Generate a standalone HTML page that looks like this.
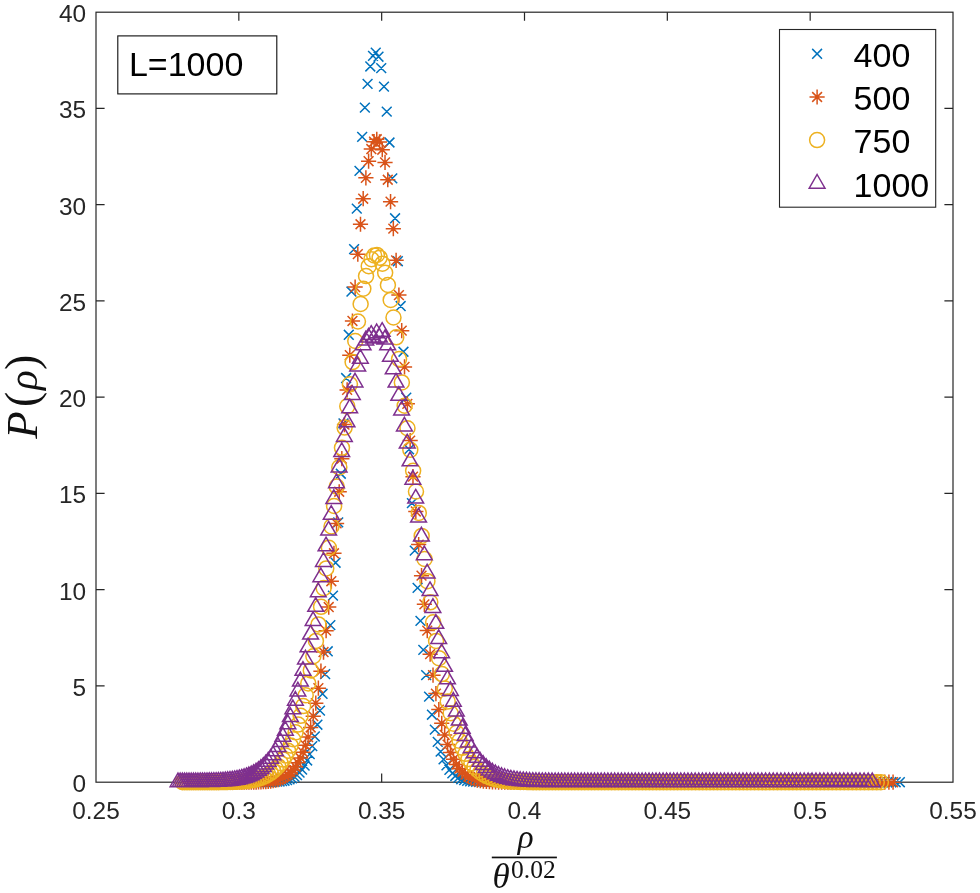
<!DOCTYPE html>
<html lang="en"><head><meta charset="utf-8"><title>P(rho) scaling plot</title>
<style>
html,body{margin:0;padding:0;background:#fff;}
svg{display:block;}
.t{font-family:"Liberation Sans",Arial,sans-serif;fill:#262626;}
.k{font-family:"Liberation Sans",Arial,sans-serif;fill:#000;}
.m{font-family:"Liberation Serif","DejaVu Serif",serif;fill:#111;}
</style></head><body>
<svg width="980" height="893" viewBox="0 0 980 893">
<rect x="0" y="0" width="980" height="893" fill="#fff"/>
<rect x="96.0" y="12.2" width="857.0" height="770.0" fill="none" stroke="#262626" stroke-width="1.2"/>
<path d="M238.83,782.2v-8.6M238.83,12.2v8.6M381.67,782.2v-8.6M381.67,12.2v8.6M524.50,782.2v-8.6M524.50,12.2v8.6M667.33,782.2v-8.6M667.33,12.2v8.6M810.17,782.2v-8.6M810.17,12.2v8.6M96.0,685.95h8.6M953.0,685.95h-8.6M96.0,589.70h8.6M953.0,589.70h-8.6M96.0,493.45h8.6M953.0,493.45h-8.6M96.0,397.20h8.6M953.0,397.20h-8.6M96.0,300.95h8.6M953.0,300.95h-8.6M96.0,204.70h8.6M953.0,204.70h-8.6M96.0,108.45h8.6M953.0,108.45h-8.6" fill="none" stroke="#262626" stroke-width="1.2"/>
<text class="t" x="96.00" y="818.6" font-size="24.4" text-anchor="middle">0.25</text>
<text class="t" x="238.83" y="818.6" font-size="24.4" text-anchor="middle">0.3</text>
<text class="t" x="381.67" y="818.6" font-size="24.4" text-anchor="middle">0.35</text>
<text class="t" x="524.50" y="818.6" font-size="24.4" text-anchor="middle">0.4</text>
<text class="t" x="667.33" y="818.6" font-size="24.4" text-anchor="middle">0.45</text>
<text class="t" x="810.17" y="818.6" font-size="24.4" text-anchor="middle">0.5</text>
<text class="t" x="953.00" y="818.6" font-size="24.4" text-anchor="middle">0.55</text>
<text class="t" x="86.2" y="792.00" font-size="24.4" text-anchor="end">0</text>
<text class="t" x="86.2" y="695.75" font-size="24.4" text-anchor="end">5</text>
<text class="t" x="86.2" y="599.50" font-size="24.4" text-anchor="end">10</text>
<text class="t" x="86.2" y="503.25" font-size="24.4" text-anchor="end">15</text>
<text class="t" x="86.2" y="407.00" font-size="24.4" text-anchor="end">20</text>
<text class="t" x="86.2" y="310.75" font-size="24.4" text-anchor="end">25</text>
<text class="t" x="86.2" y="214.50" font-size="24.4" text-anchor="end">30</text>
<text class="t" x="86.2" y="118.25" font-size="24.4" text-anchor="end">35</text>
<text class="t" x="86.2" y="22.00" font-size="24.4" text-anchor="end">40</text>
<path d="M187.84,777.30l9.8,9.8m-9.8,0l9.8,-9.8M190.07,777.30l9.8,9.8m-9.8,0l9.8,-9.8M192.31,777.30l9.8,9.8m-9.8,0l9.8,-9.8M194.55,777.30l9.8,9.8m-9.8,0l9.8,-9.8M196.80,777.30l9.8,9.8m-9.8,0l9.8,-9.8M199.06,777.30l9.8,9.8m-9.8,0l9.8,-9.8M201.33,777.30l9.8,9.8m-9.8,0l9.8,-9.8M203.60,777.30l9.8,9.8m-9.8,0l9.8,-9.8M205.87,777.30l9.8,9.8m-9.8,0l9.8,-9.8M208.16,777.30l9.8,9.8m-9.8,0l9.8,-9.8M210.44,777.30l9.8,9.8m-9.8,0l9.8,-9.8M212.74,777.30l9.8,9.8m-9.8,0l9.8,-9.8M215.04,777.30l9.8,9.8m-9.8,0l9.8,-9.8M217.35,777.30l9.8,9.8m-9.8,0l9.8,-9.8M219.66,777.30l9.8,9.8m-9.8,0l9.8,-9.8M221.98,777.30l9.8,9.8m-9.8,0l9.8,-9.8M224.31,777.30l9.8,9.8m-9.8,0l9.8,-9.8M226.65,777.30l9.8,9.8m-9.8,0l9.8,-9.8M228.98,777.30l9.8,9.8m-9.8,0l9.8,-9.8M231.33,777.30l9.8,9.8m-9.8,0l9.8,-9.8M233.68,777.30l9.8,9.8m-9.8,0l9.8,-9.8M236.04,777.30l9.8,9.8m-9.8,0l9.8,-9.8M238.41,777.30l9.8,9.8m-9.8,0l9.8,-9.8M240.78,777.30l9.8,9.8m-9.8,0l9.8,-9.8M243.16,777.30l9.8,9.8m-9.8,0l9.8,-9.8M245.55,777.29l9.8,9.8m-9.8,0l9.8,-9.8M247.94,777.29l9.8,9.8m-9.8,0l9.8,-9.8M250.34,777.29l9.8,9.8m-9.8,0l9.8,-9.8M252.74,777.28l9.8,9.8m-9.8,0l9.8,-9.8M255.15,777.27l9.8,9.8m-9.8,0l9.8,-9.8M257.57,777.25l9.8,9.8m-9.8,0l9.8,-9.8M260.00,777.23l9.8,9.8m-9.8,0l9.8,-9.8M262.43,777.19l9.8,9.8m-9.8,0l9.8,-9.8M264.87,777.14l9.8,9.8m-9.8,0l9.8,-9.8M267.31,777.06l9.8,9.8m-9.8,0l9.8,-9.8M269.76,776.95l9.8,9.8m-9.8,0l9.8,-9.8M272.22,776.79l9.8,9.8m-9.8,0l9.8,-9.8M274.69,776.57l9.8,9.8m-9.8,0l9.8,-9.8M277.16,776.27l9.8,9.8m-9.8,0l9.8,-9.8M279.64,775.85l9.8,9.8m-9.8,0l9.8,-9.8M282.13,775.27l9.8,9.8m-9.8,0l9.8,-9.8M284.62,774.49l9.8,9.8m-9.8,0l9.8,-9.8M287.12,773.43l9.8,9.8m-9.8,0l9.8,-9.8M289.62,772.03l9.8,9.8m-9.8,0l9.8,-9.8M292.14,770.18l9.8,9.8m-9.8,0l9.8,-9.8M294.66,767.76l9.8,9.8m-9.8,0l9.8,-9.8M297.18,764.63l9.8,9.8m-9.8,0l9.8,-9.8M299.72,760.63l9.8,9.8m-9.8,0l9.8,-9.8M302.26,755.55l9.8,9.8m-9.8,0l9.8,-9.8M304.81,749.19l9.8,9.8m-9.8,0l9.8,-9.8M307.36,741.29l9.8,9.8m-9.8,0l9.8,-9.8M309.93,731.59l9.8,9.8m-9.8,0l9.8,-9.8M312.50,719.81l9.8,9.8m-9.8,0l9.8,-9.8M315.07,705.67l9.8,9.8m-9.8,0l9.8,-9.8M317.65,688.88l9.8,9.8m-9.8,0l9.8,-9.8M320.25,669.18l9.8,9.8m-9.8,0l9.8,-9.8M322.84,646.36l9.8,9.8m-9.8,0l9.8,-9.8M325.45,620.24l9.8,9.8m-9.8,0l9.8,-9.8M328.06,590.73l9.8,9.8m-9.8,0l9.8,-9.8M330.68,557.83l9.8,9.8m-9.8,0l9.8,-9.8M333.31,517.43l9.8,9.8m-9.8,0l9.8,-9.8M335.94,468.85l9.8,9.8m-9.8,0l9.8,-9.8M338.58,418.58l9.8,9.8m-9.8,0l9.8,-9.8M341.23,373.13l9.8,9.8m-9.8,0l9.8,-9.8M343.88,329.90l9.8,9.8m-9.8,0l9.8,-9.8M346.55,286.64l9.8,9.8m-9.8,0l9.8,-9.8M349.22,244.25l9.8,9.8m-9.8,0l9.8,-9.8M351.89,203.68l9.8,9.8m-9.8,0l9.8,-9.8M354.58,165.91l9.8,9.8m-9.8,0l9.8,-9.8M357.27,131.92l9.8,9.8m-9.8,0l9.8,-9.8M359.97,102.66l9.8,9.8m-9.8,0l9.8,-9.8M362.68,78.96l9.8,9.8m-9.8,0l9.8,-9.8M365.39,61.57l9.8,9.8m-9.8,0l9.8,-9.8M368.11,51.03l9.8,9.8m-9.8,0l9.8,-9.8M370.84,47.74l9.8,9.8m-9.8,0l9.8,-9.8M373.58,51.83l9.8,9.8m-9.8,0l9.8,-9.8M376.33,63.26l9.8,9.8m-9.8,0l9.8,-9.8M379.08,81.73l9.8,9.8m-9.8,0l9.8,-9.8M381.84,106.74l9.8,9.8m-9.8,0l9.8,-9.8M384.60,137.60l9.8,9.8m-9.8,0l9.8,-9.8M387.38,173.47l9.8,9.8m-9.8,0l9.8,-9.8M390.16,213.39l9.8,9.8m-9.8,0l9.8,-9.8M392.95,256.30l9.8,9.8m-9.8,0l9.8,-9.8M395.75,301.14l9.8,9.8m-9.8,0l9.8,-9.8M398.56,346.85l9.8,9.8m-9.8,0l9.8,-9.8M401.37,392.77l9.8,9.8m-9.8,0l9.8,-9.8M404.19,444.42l9.8,9.8m-9.8,0l9.8,-9.8M407.02,498.22l9.8,9.8m-9.8,0l9.8,-9.8M409.86,545.76l9.8,9.8m-9.8,0l9.8,-9.8M412.70,582.99l9.8,9.8m-9.8,0l9.8,-9.8M415.55,615.94l9.8,9.8m-9.8,0l9.8,-9.8M418.41,645.00l9.8,9.8m-9.8,0l9.8,-9.8M421.28,670.21l9.8,9.8m-9.8,0l9.8,-9.8M424.16,691.73l9.8,9.8m-9.8,0l9.8,-9.8M427.04,709.82l9.8,9.8m-9.8,0l9.8,-9.8M429.93,724.78l9.8,9.8m-9.8,0l9.8,-9.8M432.83,736.97l9.8,9.8m-9.8,0l9.8,-9.8M435.74,746.73l9.8,9.8m-9.8,0l9.8,-9.8M438.66,754.45l9.8,9.8m-9.8,0l9.8,-9.8M441.58,760.45l9.8,9.8m-9.8,0l9.8,-9.8M444.51,765.04l9.8,9.8m-9.8,0l9.8,-9.8M447.45,768.50l9.8,9.8m-9.8,0l9.8,-9.8M450.40,771.07l9.8,9.8m-9.8,0l9.8,-9.8M453.35,772.96l9.8,9.8m-9.8,0l9.8,-9.8M456.32,774.31l9.8,9.8m-9.8,0l9.8,-9.8M459.29,775.27l9.8,9.8m-9.8,0l9.8,-9.8M462.27,775.95l9.8,9.8m-9.8,0l9.8,-9.8M465.26,776.41l9.8,9.8m-9.8,0l9.8,-9.8M468.26,776.72l9.8,9.8m-9.8,0l9.8,-9.8M471.26,776.93l9.8,9.8m-9.8,0l9.8,-9.8M474.28,777.07l9.8,9.8m-9.8,0l9.8,-9.8M477.30,777.15l9.8,9.8m-9.8,0l9.8,-9.8M480.33,777.21l9.8,9.8m-9.8,0l9.8,-9.8M483.37,777.25l9.8,9.8m-9.8,0l9.8,-9.8M486.41,777.27l9.8,9.8m-9.8,0l9.8,-9.8M489.47,777.28l9.8,9.8m-9.8,0l9.8,-9.8M492.53,777.29l9.8,9.8m-9.8,0l9.8,-9.8M495.60,777.29l9.8,9.8m-9.8,0l9.8,-9.8M498.69,777.30l9.8,9.8m-9.8,0l9.8,-9.8M501.77,777.30l9.8,9.8m-9.8,0l9.8,-9.8M504.87,777.30l9.8,9.8m-9.8,0l9.8,-9.8M507.98,777.30l9.8,9.8m-9.8,0l9.8,-9.8M511.09,777.30l9.8,9.8m-9.8,0l9.8,-9.8M514.22,777.30l9.8,9.8m-9.8,0l9.8,-9.8M517.35,777.30l9.8,9.8m-9.8,0l9.8,-9.8M520.49,777.30l9.8,9.8m-9.8,0l9.8,-9.8M523.64,777.30l9.8,9.8m-9.8,0l9.8,-9.8M526.80,777.30l9.8,9.8m-9.8,0l9.8,-9.8M529.96,777.30l9.8,9.8m-9.8,0l9.8,-9.8M533.14,777.30l9.8,9.8m-9.8,0l9.8,-9.8M536.32,777.30l9.8,9.8m-9.8,0l9.8,-9.8M539.51,777.30l9.8,9.8m-9.8,0l9.8,-9.8M542.72,777.30l9.8,9.8m-9.8,0l9.8,-9.8M545.93,777.30l9.8,9.8m-9.8,0l9.8,-9.8M549.14,777.30l9.8,9.8m-9.8,0l9.8,-9.8M552.37,777.30l9.8,9.8m-9.8,0l9.8,-9.8M555.61,777.30l9.8,9.8m-9.8,0l9.8,-9.8M558.86,777.30l9.8,9.8m-9.8,0l9.8,-9.8M562.11,777.30l9.8,9.8m-9.8,0l9.8,-9.8M565.37,777.30l9.8,9.8m-9.8,0l9.8,-9.8M568.65,777.30l9.8,9.8m-9.8,0l9.8,-9.8M571.93,777.30l9.8,9.8m-9.8,0l9.8,-9.8M575.22,777.30l9.8,9.8m-9.8,0l9.8,-9.8M578.52,777.30l9.8,9.8m-9.8,0l9.8,-9.8M581.83,777.30l9.8,9.8m-9.8,0l9.8,-9.8M585.15,777.30l9.8,9.8m-9.8,0l9.8,-9.8M588.47,777.30l9.8,9.8m-9.8,0l9.8,-9.8M591.81,777.30l9.8,9.8m-9.8,0l9.8,-9.8M595.15,777.30l9.8,9.8m-9.8,0l9.8,-9.8M598.51,777.30l9.8,9.8m-9.8,0l9.8,-9.8M601.87,777.30l9.8,9.8m-9.8,0l9.8,-9.8M605.25,777.30l9.8,9.8m-9.8,0l9.8,-9.8M608.63,777.30l9.8,9.8m-9.8,0l9.8,-9.8M612.02,777.30l9.8,9.8m-9.8,0l9.8,-9.8M615.42,777.30l9.8,9.8m-9.8,0l9.8,-9.8M618.83,777.30l9.8,9.8m-9.8,0l9.8,-9.8M622.25,777.30l9.8,9.8m-9.8,0l9.8,-9.8M625.68,777.30l9.8,9.8m-9.8,0l9.8,-9.8M629.12,777.30l9.8,9.8m-9.8,0l9.8,-9.8M632.57,777.30l9.8,9.8m-9.8,0l9.8,-9.8M636.03,777.30l9.8,9.8m-9.8,0l9.8,-9.8M639.49,777.30l9.8,9.8m-9.8,0l9.8,-9.8M642.97,777.30l9.8,9.8m-9.8,0l9.8,-9.8M646.46,777.30l9.8,9.8m-9.8,0l9.8,-9.8M649.95,777.30l9.8,9.8m-9.8,0l9.8,-9.8M653.46,777.30l9.8,9.8m-9.8,0l9.8,-9.8M656.97,777.30l9.8,9.8m-9.8,0l9.8,-9.8M660.50,777.30l9.8,9.8m-9.8,0l9.8,-9.8M664.03,777.30l9.8,9.8m-9.8,0l9.8,-9.8M667.58,777.30l9.8,9.8m-9.8,0l9.8,-9.8M671.13,777.30l9.8,9.8m-9.8,0l9.8,-9.8M674.70,777.30l9.8,9.8m-9.8,0l9.8,-9.8M678.27,777.30l9.8,9.8m-9.8,0l9.8,-9.8M681.85,777.30l9.8,9.8m-9.8,0l9.8,-9.8M685.45,777.30l9.8,9.8m-9.8,0l9.8,-9.8M689.05,777.30l9.8,9.8m-9.8,0l9.8,-9.8M692.66,777.30l9.8,9.8m-9.8,0l9.8,-9.8M696.29,777.30l9.8,9.8m-9.8,0l9.8,-9.8M699.92,777.30l9.8,9.8m-9.8,0l9.8,-9.8M703.56,777.30l9.8,9.8m-9.8,0l9.8,-9.8M707.22,777.30l9.8,9.8m-9.8,0l9.8,-9.8M710.88,777.30l9.8,9.8m-9.8,0l9.8,-9.8M714.55,777.30l9.8,9.8m-9.8,0l9.8,-9.8M718.24,777.30l9.8,9.8m-9.8,0l9.8,-9.8M721.93,777.30l9.8,9.8m-9.8,0l9.8,-9.8M725.63,777.30l9.8,9.8m-9.8,0l9.8,-9.8M729.35,777.30l9.8,9.8m-9.8,0l9.8,-9.8M733.07,777.30l9.8,9.8m-9.8,0l9.8,-9.8M736.81,777.30l9.8,9.8m-9.8,0l9.8,-9.8M740.55,777.30l9.8,9.8m-9.8,0l9.8,-9.8M744.31,777.30l9.8,9.8m-9.8,0l9.8,-9.8M748.07,777.30l9.8,9.8m-9.8,0l9.8,-9.8M751.85,777.30l9.8,9.8m-9.8,0l9.8,-9.8M755.63,777.30l9.8,9.8m-9.8,0l9.8,-9.8M759.43,777.30l9.8,9.8m-9.8,0l9.8,-9.8M763.24,777.30l9.8,9.8m-9.8,0l9.8,-9.8M767.06,777.30l9.8,9.8m-9.8,0l9.8,-9.8M770.88,777.30l9.8,9.8m-9.8,0l9.8,-9.8M774.72,777.30l9.8,9.8m-9.8,0l9.8,-9.8M778.57,777.30l9.8,9.8m-9.8,0l9.8,-9.8M782.43,777.30l9.8,9.8m-9.8,0l9.8,-9.8M786.30,777.30l9.8,9.8m-9.8,0l9.8,-9.8M790.18,777.30l9.8,9.8m-9.8,0l9.8,-9.8M794.07,777.30l9.8,9.8m-9.8,0l9.8,-9.8M797.98,777.30l9.8,9.8m-9.8,0l9.8,-9.8M801.89,777.30l9.8,9.8m-9.8,0l9.8,-9.8M805.81,777.30l9.8,9.8m-9.8,0l9.8,-9.8M809.75,777.30l9.8,9.8m-9.8,0l9.8,-9.8M813.70,777.30l9.8,9.8m-9.8,0l9.8,-9.8M817.65,777.30l9.8,9.8m-9.8,0l9.8,-9.8M821.62,777.30l9.8,9.8m-9.8,0l9.8,-9.8M825.60,777.30l9.8,9.8m-9.8,0l9.8,-9.8M829.59,777.30l9.8,9.8m-9.8,0l9.8,-9.8M833.59,777.30l9.8,9.8m-9.8,0l9.8,-9.8M837.60,777.30l9.8,9.8m-9.8,0l9.8,-9.8M841.62,777.30l9.8,9.8m-9.8,0l9.8,-9.8M845.65,777.30l9.8,9.8m-9.8,0l9.8,-9.8M849.70,777.30l9.8,9.8m-9.8,0l9.8,-9.8M853.75,777.30l9.8,9.8m-9.8,0l9.8,-9.8M857.82,777.30l9.8,9.8m-9.8,0l9.8,-9.8M861.90,777.30l9.8,9.8m-9.8,0l9.8,-9.8M865.99,777.30l9.8,9.8m-9.8,0l9.8,-9.8M870.09,777.30l9.8,9.8m-9.8,0l9.8,-9.8M874.20,777.30l9.8,9.8m-9.8,0l9.8,-9.8M878.32,777.30l9.8,9.8m-9.8,0l9.8,-9.8M882.46,777.30l9.8,9.8m-9.8,0l9.8,-9.8M886.60,777.30l9.8,9.8m-9.8,0l9.8,-9.8M890.76,777.30l9.8,9.8m-9.8,0l9.8,-9.8M894.93,777.30l9.8,9.8m-9.8,0l9.8,-9.8" fill="none" stroke="#0072BD" stroke-width="1.5" stroke-linejoin="miter"/>
<path d="M184.22,777.30l9.8,9.8m-9.8,0l9.8,-9.8M181.52,782.20h15.2M189.12,774.60v15.2M186.45,777.30l9.8,9.8m-9.8,0l9.8,-9.8M183.75,782.20h15.2M191.35,774.60v15.2M188.68,777.30l9.8,9.8m-9.8,0l9.8,-9.8M185.98,782.20h15.2M193.58,774.60v15.2M190.91,777.30l9.8,9.8m-9.8,0l9.8,-9.8M188.21,782.20h15.2M195.81,774.60v15.2M193.15,777.30l9.8,9.8m-9.8,0l9.8,-9.8M190.45,782.20h15.2M198.05,774.60v15.2M195.40,777.30l9.8,9.8m-9.8,0l9.8,-9.8M192.70,782.20h15.2M200.30,774.60v15.2M197.66,777.30l9.8,9.8m-9.8,0l9.8,-9.8M194.96,782.20h15.2M202.56,774.60v15.2M199.92,777.30l9.8,9.8m-9.8,0l9.8,-9.8M197.22,782.20h15.2M204.82,774.60v15.2M202.18,777.30l9.8,9.8m-9.8,0l9.8,-9.8M199.48,782.20h15.2M207.08,774.60v15.2M204.45,777.30l9.8,9.8m-9.8,0l9.8,-9.8M201.75,782.20h15.2M209.35,774.60v15.2M206.73,777.30l9.8,9.8m-9.8,0l9.8,-9.8M204.03,782.20h15.2M211.63,774.60v15.2M209.02,777.30l9.8,9.8m-9.8,0l9.8,-9.8M206.32,782.20h15.2M213.92,774.60v15.2M211.31,777.30l9.8,9.8m-9.8,0l9.8,-9.8M208.61,782.20h15.2M216.21,774.60v15.2M213.61,777.30l9.8,9.8m-9.8,0l9.8,-9.8M210.91,782.20h15.2M218.51,774.60v15.2M215.91,777.30l9.8,9.8m-9.8,0l9.8,-9.8M213.21,782.20h15.2M220.81,774.60v15.2M218.22,777.30l9.8,9.8m-9.8,0l9.8,-9.8M215.52,782.20h15.2M223.12,774.60v15.2M220.54,777.30l9.8,9.8m-9.8,0l9.8,-9.8M217.84,782.20h15.2M225.44,774.60v15.2M222.86,777.30l9.8,9.8m-9.8,0l9.8,-9.8M220.16,782.20h15.2M227.76,774.60v15.2M225.19,777.30l9.8,9.8m-9.8,0l9.8,-9.8M222.49,782.20h15.2M230.09,774.60v15.2M227.53,777.29l9.8,9.8m-9.8,0l9.8,-9.8M224.83,782.19h15.2M232.43,774.59v15.2M229.87,777.29l9.8,9.8m-9.8,0l9.8,-9.8M227.17,782.19h15.2M234.77,774.59v15.2M232.22,777.29l9.8,9.8m-9.8,0l9.8,-9.8M229.52,782.19h15.2M237.12,774.59v15.2M234.57,777.28l9.8,9.8m-9.8,0l9.8,-9.8M231.87,782.18h15.2M239.47,774.58v15.2M236.93,777.28l9.8,9.8m-9.8,0l9.8,-9.8M234.23,782.18h15.2M241.83,774.58v15.2M239.30,777.27l9.8,9.8m-9.8,0l9.8,-9.8M236.60,782.17h15.2M244.20,774.57v15.2M241.68,777.25l9.8,9.8m-9.8,0l9.8,-9.8M238.98,782.15h15.2M246.58,774.55v15.2M244.06,777.24l9.8,9.8m-9.8,0l9.8,-9.8M241.36,782.14h15.2M248.96,774.54v15.2M246.45,777.21l9.8,9.8m-9.8,0l9.8,-9.8M243.75,782.11h15.2M251.35,774.51v15.2M248.84,777.17l9.8,9.8m-9.8,0l9.8,-9.8M246.14,782.07h15.2M253.74,774.47v15.2M251.24,777.13l9.8,9.8m-9.8,0l9.8,-9.8M248.54,782.03h15.2M256.14,774.43v15.2M253.65,777.06l9.8,9.8m-9.8,0l9.8,-9.8M250.95,781.96h15.2M258.55,774.36v15.2M256.06,776.97l9.8,9.8m-9.8,0l9.8,-9.8M253.36,781.87h15.2M260.96,774.27v15.2M258.49,776.85l9.8,9.8m-9.8,0l9.8,-9.8M255.79,781.75h15.2M263.39,774.15v15.2M260.91,776.68l9.8,9.8m-9.8,0l9.8,-9.8M258.21,781.58h15.2M265.81,773.98v15.2M263.35,776.46l9.8,9.8m-9.8,0l9.8,-9.8M260.65,781.36h15.2M268.25,773.76v15.2M265.79,776.18l9.8,9.8m-9.8,0l9.8,-9.8M263.09,781.08h15.2M270.69,773.48v15.2M268.24,775.80l9.8,9.8m-9.8,0l9.8,-9.8M265.54,780.70h15.2M273.14,773.10v15.2M270.69,775.31l9.8,9.8m-9.8,0l9.8,-9.8M267.99,780.21h15.2M275.59,772.61v15.2M273.15,774.67l9.8,9.8m-9.8,0l9.8,-9.8M270.45,779.57h15.2M278.05,771.97v15.2M275.62,773.85l9.8,9.8m-9.8,0l9.8,-9.8M272.92,778.75h15.2M280.52,771.15v15.2M278.09,772.80l9.8,9.8m-9.8,0l9.8,-9.8M275.39,777.70h15.2M282.99,770.10v15.2M280.58,771.46l9.8,9.8m-9.8,0l9.8,-9.8M277.88,776.36h15.2M285.48,768.76v15.2M283.06,769.78l9.8,9.8m-9.8,0l9.8,-9.8M280.36,774.68h15.2M287.96,767.08v15.2M285.56,767.68l9.8,9.8m-9.8,0l9.8,-9.8M282.86,772.58h15.2M290.46,764.98v15.2M288.06,765.07l9.8,9.8m-9.8,0l9.8,-9.8M285.36,769.97h15.2M292.96,762.37v15.2M290.57,761.84l9.8,9.8m-9.8,0l9.8,-9.8M287.87,766.74h15.2M295.47,759.14v15.2M293.09,757.90l9.8,9.8m-9.8,0l9.8,-9.8M290.39,762.80h15.2M297.99,755.20v15.2M295.61,753.10l9.8,9.8m-9.8,0l9.8,-9.8M292.91,758.00h15.2M300.51,750.40v15.2M298.14,747.32l9.8,9.8m-9.8,0l9.8,-9.8M295.44,752.22h15.2M303.04,744.62v15.2M300.68,740.41l9.8,9.8m-9.8,0l9.8,-9.8M297.98,745.31h15.2M305.58,737.71v15.2M303.22,732.20l9.8,9.8m-9.8,0l9.8,-9.8M300.52,737.10h15.2M308.12,729.50v15.2M305.77,722.55l9.8,9.8m-9.8,0l9.8,-9.8M303.07,727.45h15.2M310.67,719.85v15.2M308.33,711.28l9.8,9.8m-9.8,0l9.8,-9.8M305.63,716.18h15.2M313.23,708.58v15.2M310.89,698.24l9.8,9.8m-9.8,0l9.8,-9.8M308.19,703.14h15.2M315.79,695.54v15.2M313.47,683.29l9.8,9.8m-9.8,0l9.8,-9.8M310.77,688.19h15.2M318.37,680.59v15.2M316.04,666.28l9.8,9.8m-9.8,0l9.8,-9.8M313.34,671.18h15.2M320.94,663.58v15.2M318.63,647.13l9.8,9.8m-9.8,0l9.8,-9.8M315.93,652.03h15.2M323.53,644.43v15.2M321.22,625.76l9.8,9.8m-9.8,0l9.8,-9.8M318.52,630.66h15.2M326.12,623.06v15.2M323.82,602.15l9.8,9.8m-9.8,0l9.8,-9.8M321.12,607.05h15.2M328.72,599.45v15.2M326.43,576.33l9.8,9.8m-9.8,0l9.8,-9.8M323.73,581.23h15.2M331.33,573.63v15.2M329.05,548.39l9.8,9.8m-9.8,0l9.8,-9.8M326.35,553.29h15.2M333.95,545.69v15.2M331.67,518.48l9.8,9.8m-9.8,0l9.8,-9.8M328.97,523.38h15.2M336.57,515.78v15.2M334.30,486.85l9.8,9.8m-9.8,0l9.8,-9.8M331.60,491.75h15.2M339.20,484.15v15.2M336.93,453.79l9.8,9.8m-9.8,0l9.8,-9.8M334.23,458.69h15.2M341.83,451.09v15.2M339.58,419.69l9.8,9.8m-9.8,0l9.8,-9.8M336.88,424.59h15.2M344.48,416.99v15.2M342.23,385.01l9.8,9.8m-9.8,0l9.8,-9.8M339.53,389.91h15.2M347.13,382.31v15.2M344.89,350.28l9.8,9.8m-9.8,0l9.8,-9.8M342.19,355.18h15.2M349.79,347.58v15.2M347.55,316.08l9.8,9.8m-9.8,0l9.8,-9.8M344.85,320.98h15.2M352.45,313.38v15.2M350.23,282.18l9.8,9.8m-9.8,0l9.8,-9.8M347.53,287.08h15.2M355.13,279.48v15.2M352.91,249.23l9.8,9.8m-9.8,0l9.8,-9.8M350.21,254.13h15.2M357.81,246.53v15.2M355.59,219.35l9.8,9.8m-9.8,0l9.8,-9.8M352.89,224.25h15.2M360.49,216.65v15.2M358.29,193.81l9.8,9.8m-9.8,0l9.8,-9.8M355.59,198.71h15.2M363.19,191.11v15.2M360.99,172.96l9.8,9.8m-9.8,0l9.8,-9.8M358.29,177.86h15.2M365.89,170.26v15.2M363.70,156.32l9.8,9.8m-9.8,0l9.8,-9.8M361.00,161.22h15.2M368.60,153.62v15.2M366.42,144.15l9.8,9.8m-9.8,0l9.8,-9.8M363.72,149.05h15.2M371.32,141.45v15.2M369.14,136.75l9.8,9.8m-9.8,0l9.8,-9.8M366.44,141.65h15.2M374.04,134.05v15.2M371.88,134.35l9.8,9.8m-9.8,0l9.8,-9.8M369.18,139.25h15.2M376.78,131.65v15.2M374.62,137.04l9.8,9.8m-9.8,0l9.8,-9.8M371.92,141.94h15.2M379.52,134.34v15.2M377.36,144.81l9.8,9.8m-9.8,0l9.8,-9.8M374.66,149.71h15.2M382.26,142.11v15.2M380.12,157.50l9.8,9.8m-9.8,0l9.8,-9.8M377.42,162.40h15.2M385.02,154.80v15.2M382.88,174.85l9.8,9.8m-9.8,0l9.8,-9.8M380.18,179.75h15.2M387.78,172.15v15.2M385.65,196.75l9.8,9.8m-9.8,0l9.8,-9.8M382.95,201.65h15.2M390.55,194.05v15.2M388.43,223.77l9.8,9.8m-9.8,0l9.8,-9.8M385.73,228.67h15.2M393.33,221.07v15.2M391.21,255.42l9.8,9.8m-9.8,0l9.8,-9.8M388.51,260.32h15.2M396.11,252.72v15.2M394.01,290.19l9.8,9.8m-9.8,0l9.8,-9.8M391.31,295.09h15.2M398.91,287.49v15.2M396.81,325.73l9.8,9.8m-9.8,0l9.8,-9.8M394.11,330.63h15.2M401.71,323.03v15.2M399.62,362.03l9.8,9.8m-9.8,0l9.8,-9.8M396.92,366.93h15.2M404.52,359.33v15.2M402.43,398.91l9.8,9.8m-9.8,0l9.8,-9.8M399.73,403.81h15.2M407.33,396.21v15.2M405.26,435.69l9.8,9.8m-9.8,0l9.8,-9.8M402.56,440.59h15.2M410.16,432.99v15.2M408.09,471.76l9.8,9.8m-9.8,0l9.8,-9.8M405.39,476.66h15.2M412.99,469.06v15.2M410.93,506.58l9.8,9.8m-9.8,0l9.8,-9.8M408.23,511.48h15.2M415.83,503.88v15.2M413.77,539.70l9.8,9.8m-9.8,0l9.8,-9.8M411.07,544.60h15.2M418.67,537.00v15.2M416.63,570.74l9.8,9.8m-9.8,0l9.8,-9.8M413.93,575.64h15.2M421.53,568.04v15.2M419.49,599.46l9.8,9.8m-9.8,0l9.8,-9.8M416.79,604.36h15.2M424.39,596.76v15.2M422.36,625.66l9.8,9.8m-9.8,0l9.8,-9.8M419.66,630.56h15.2M427.26,622.96v15.2M425.24,649.26l9.8,9.8m-9.8,0l9.8,-9.8M422.54,654.16h15.2M430.14,646.56v15.2M428.13,670.25l9.8,9.8m-9.8,0l9.8,-9.8M425.43,675.15h15.2M433.03,667.55v15.2M431.02,688.68l9.8,9.8m-9.8,0l9.8,-9.8M428.32,693.58h15.2M435.92,685.98v15.2M433.93,704.68l9.8,9.8m-9.8,0l9.8,-9.8M431.23,709.58h15.2M438.83,701.98v15.2M436.84,718.38l9.8,9.8m-9.8,0l9.8,-9.8M434.14,723.28h15.2M441.74,715.68v15.2M439.76,729.99l9.8,9.8m-9.8,0l9.8,-9.8M437.06,734.89h15.2M444.66,727.29v15.2M442.68,739.69l9.8,9.8m-9.8,0l9.8,-9.8M439.98,744.59h15.2M447.58,736.99v15.2M445.62,747.71l9.8,9.8m-9.8,0l9.8,-9.8M442.92,752.61h15.2M450.52,745.01v15.2M448.56,754.27l9.8,9.8m-9.8,0l9.8,-9.8M445.86,759.17h15.2M453.46,751.57v15.2M451.51,759.56l9.8,9.8m-9.8,0l9.8,-9.8M448.81,764.46h15.2M456.41,756.86v15.2M454.47,763.78l9.8,9.8m-9.8,0l9.8,-9.8M451.77,768.68h15.2M459.37,761.08v15.2M457.44,767.10l9.8,9.8m-9.8,0l9.8,-9.8M454.74,772.00h15.2M462.34,764.40v15.2M460.41,769.69l9.8,9.8m-9.8,0l9.8,-9.8M457.71,774.59h15.2M465.31,766.99v15.2M463.40,771.68l9.8,9.8m-9.8,0l9.8,-9.8M460.70,776.58h15.2M468.30,768.98v15.2M466.39,773.20l9.8,9.8m-9.8,0l9.8,-9.8M463.69,778.10h15.2M471.29,770.50v15.2M469.39,774.34l9.8,9.8m-9.8,0l9.8,-9.8M466.69,779.24h15.2M474.29,771.64v15.2M472.40,775.19l9.8,9.8m-9.8,0l9.8,-9.8M469.70,780.09h15.2M477.30,772.49v15.2M475.42,775.81l9.8,9.8m-9.8,0l9.8,-9.8M472.72,780.71h15.2M480.32,773.11v15.2M478.44,776.26l9.8,9.8m-9.8,0l9.8,-9.8M475.74,781.16h15.2M483.34,773.56v15.2M481.47,776.58l9.8,9.8m-9.8,0l9.8,-9.8M478.77,781.48h15.2M486.37,773.88v15.2M484.52,776.81l9.8,9.8m-9.8,0l9.8,-9.8M481.82,781.71h15.2M489.42,774.11v15.2M487.57,776.97l9.8,9.8m-9.8,0l9.8,-9.8M484.87,781.87h15.2M492.47,774.27v15.2M490.62,777.08l9.8,9.8m-9.8,0l9.8,-9.8M487.92,781.98h15.2M495.52,774.38v15.2M493.69,777.15l9.8,9.8m-9.8,0l9.8,-9.8M490.99,782.05h15.2M498.59,774.45v15.2M496.77,777.21l9.8,9.8m-9.8,0l9.8,-9.8M494.07,782.11h15.2M501.67,774.51v15.2M499.85,777.24l9.8,9.8m-9.8,0l9.8,-9.8M497.15,782.14h15.2M504.75,774.54v15.2M502.94,777.26l9.8,9.8m-9.8,0l9.8,-9.8M500.24,782.16h15.2M507.84,774.56v15.2M506.04,777.28l9.8,9.8m-9.8,0l9.8,-9.8M503.34,782.18h15.2M510.94,774.58v15.2M509.15,777.28l9.8,9.8m-9.8,0l9.8,-9.8M506.45,782.18h15.2M514.05,774.58v15.2M512.27,777.29l9.8,9.8m-9.8,0l9.8,-9.8M509.57,782.19h15.2M517.17,774.59v15.2M515.40,777.29l9.8,9.8m-9.8,0l9.8,-9.8M512.70,782.19h15.2M520.30,774.59v15.2M518.53,777.30l9.8,9.8m-9.8,0l9.8,-9.8M515.83,782.20h15.2M523.43,774.60v15.2M521.68,777.30l9.8,9.8m-9.8,0l9.8,-9.8M518.98,782.20h15.2M526.58,774.60v15.2M524.83,777.30l9.8,9.8m-9.8,0l9.8,-9.8M522.13,782.20h15.2M529.73,774.60v15.2M527.99,777.30l9.8,9.8m-9.8,0l9.8,-9.8M525.29,782.20h15.2M532.89,774.60v15.2M531.16,777.30l9.8,9.8m-9.8,0l9.8,-9.8M528.46,782.20h15.2M536.06,774.60v15.2M534.34,777.30l9.8,9.8m-9.8,0l9.8,-9.8M531.64,782.20h15.2M539.24,774.60v15.2M537.52,777.30l9.8,9.8m-9.8,0l9.8,-9.8M534.82,782.20h15.2M542.42,774.60v15.2M540.72,777.30l9.8,9.8m-9.8,0l9.8,-9.8M538.02,782.20h15.2M545.62,774.60v15.2M543.92,777.30l9.8,9.8m-9.8,0l9.8,-9.8M541.22,782.20h15.2M548.82,774.60v15.2M547.14,777.30l9.8,9.8m-9.8,0l9.8,-9.8M544.44,782.20h15.2M552.04,774.60v15.2M550.36,777.30l9.8,9.8m-9.8,0l9.8,-9.8M547.66,782.20h15.2M555.26,774.60v15.2M553.59,777.30l9.8,9.8m-9.8,0l9.8,-9.8M550.89,782.20h15.2M558.49,774.60v15.2M556.83,777.30l9.8,9.8m-9.8,0l9.8,-9.8M554.13,782.20h15.2M561.73,774.60v15.2M560.08,777.30l9.8,9.8m-9.8,0l9.8,-9.8M557.38,782.20h15.2M564.98,774.60v15.2M563.34,777.30l9.8,9.8m-9.8,0l9.8,-9.8M560.64,782.20h15.2M568.24,774.60v15.2M566.61,777.30l9.8,9.8m-9.8,0l9.8,-9.8M563.91,782.20h15.2M571.51,774.60v15.2M569.88,777.30l9.8,9.8m-9.8,0l9.8,-9.8M567.18,782.20h15.2M574.78,774.60v15.2M573.17,777.30l9.8,9.8m-9.8,0l9.8,-9.8M570.47,782.20h15.2M578.07,774.60v15.2M576.46,777.30l9.8,9.8m-9.8,0l9.8,-9.8M573.76,782.20h15.2M581.36,774.60v15.2M579.77,777.30l9.8,9.8m-9.8,0l9.8,-9.8M577.07,782.20h15.2M584.67,774.60v15.2M583.08,777.30l9.8,9.8m-9.8,0l9.8,-9.8M580.38,782.20h15.2M587.98,774.60v15.2M586.40,777.30l9.8,9.8m-9.8,0l9.8,-9.8M583.70,782.20h15.2M591.30,774.60v15.2M589.73,777.30l9.8,9.8m-9.8,0l9.8,-9.8M587.03,782.20h15.2M594.63,774.60v15.2M593.07,777.30l9.8,9.8m-9.8,0l9.8,-9.8M590.37,782.20h15.2M597.97,774.60v15.2M596.42,777.30l9.8,9.8m-9.8,0l9.8,-9.8M593.72,782.20h15.2M601.32,774.60v15.2M599.78,777.30l9.8,9.8m-9.8,0l9.8,-9.8M597.08,782.20h15.2M604.68,774.60v15.2M603.14,777.30l9.8,9.8m-9.8,0l9.8,-9.8M600.44,782.20h15.2M608.04,774.60v15.2M606.52,777.30l9.8,9.8m-9.8,0l9.8,-9.8M603.82,782.20h15.2M611.42,774.60v15.2M609.91,777.30l9.8,9.8m-9.8,0l9.8,-9.8M607.21,782.20h15.2M614.81,774.60v15.2M613.30,777.30l9.8,9.8m-9.8,0l9.8,-9.8M610.60,782.20h15.2M618.20,774.60v15.2M616.71,777.30l9.8,9.8m-9.8,0l9.8,-9.8M614.01,782.20h15.2M621.61,774.60v15.2M620.12,777.30l9.8,9.8m-9.8,0l9.8,-9.8M617.42,782.20h15.2M625.02,774.60v15.2M623.54,777.30l9.8,9.8m-9.8,0l9.8,-9.8M620.84,782.20h15.2M628.44,774.60v15.2M626.98,777.30l9.8,9.8m-9.8,0l9.8,-9.8M624.28,782.20h15.2M631.88,774.60v15.2M630.42,777.30l9.8,9.8m-9.8,0l9.8,-9.8M627.72,782.20h15.2M635.32,774.60v15.2M633.87,777.30l9.8,9.8m-9.8,0l9.8,-9.8M631.17,782.20h15.2M638.77,774.60v15.2M637.33,777.30l9.8,9.8m-9.8,0l9.8,-9.8M634.63,782.20h15.2M642.23,774.60v15.2M640.80,777.30l9.8,9.8m-9.8,0l9.8,-9.8M638.10,782.20h15.2M645.70,774.60v15.2M644.28,777.30l9.8,9.8m-9.8,0l9.8,-9.8M641.58,782.20h15.2M649.18,774.60v15.2M647.77,777.30l9.8,9.8m-9.8,0l9.8,-9.8M645.07,782.20h15.2M652.67,774.60v15.2M651.27,777.30l9.8,9.8m-9.8,0l9.8,-9.8M648.57,782.20h15.2M656.17,774.60v15.2M654.78,777.30l9.8,9.8m-9.8,0l9.8,-9.8M652.08,782.20h15.2M659.68,774.60v15.2M658.30,777.30l9.8,9.8m-9.8,0l9.8,-9.8M655.60,782.20h15.2M663.20,774.60v15.2M661.83,777.30l9.8,9.8m-9.8,0l9.8,-9.8M659.13,782.20h15.2M666.73,774.60v15.2M665.37,777.30l9.8,9.8m-9.8,0l9.8,-9.8M662.67,782.20h15.2M670.27,774.60v15.2M668.92,777.30l9.8,9.8m-9.8,0l9.8,-9.8M666.22,782.20h15.2M673.82,774.60v15.2M672.48,777.30l9.8,9.8m-9.8,0l9.8,-9.8M669.78,782.20h15.2M677.38,774.60v15.2M676.04,777.30l9.8,9.8m-9.8,0l9.8,-9.8M673.34,782.20h15.2M680.94,774.60v15.2M679.62,777.30l9.8,9.8m-9.8,0l9.8,-9.8M676.92,782.20h15.2M684.52,774.60v15.2M683.21,777.30l9.8,9.8m-9.8,0l9.8,-9.8M680.51,782.20h15.2M688.11,774.60v15.2M686.80,777.30l9.8,9.8m-9.8,0l9.8,-9.8M684.10,782.20h15.2M691.70,774.60v15.2M690.41,777.30l9.8,9.8m-9.8,0l9.8,-9.8M687.71,782.20h15.2M695.31,774.60v15.2M694.03,777.30l9.8,9.8m-9.8,0l9.8,-9.8M691.33,782.20h15.2M698.93,774.60v15.2M697.66,777.30l9.8,9.8m-9.8,0l9.8,-9.8M694.96,782.20h15.2M702.56,774.60v15.2M701.29,777.30l9.8,9.8m-9.8,0l9.8,-9.8M698.59,782.20h15.2M706.19,774.60v15.2M704.94,777.30l9.8,9.8m-9.8,0l9.8,-9.8M702.24,782.20h15.2M709.84,774.60v15.2M708.60,777.30l9.8,9.8m-9.8,0l9.8,-9.8M705.90,782.20h15.2M713.50,774.60v15.2M712.26,777.30l9.8,9.8m-9.8,0l9.8,-9.8M709.56,782.20h15.2M717.16,774.60v15.2M715.94,777.30l9.8,9.8m-9.8,0l9.8,-9.8M713.24,782.20h15.2M720.84,774.60v15.2M719.63,777.30l9.8,9.8m-9.8,0l9.8,-9.8M716.93,782.20h15.2M724.53,774.60v15.2M723.33,777.30l9.8,9.8m-9.8,0l9.8,-9.8M720.63,782.20h15.2M728.23,774.60v15.2M727.03,777.30l9.8,9.8m-9.8,0l9.8,-9.8M724.33,782.20h15.2M731.93,774.60v15.2M730.75,777.30l9.8,9.8m-9.8,0l9.8,-9.8M728.05,782.20h15.2M735.65,774.60v15.2M734.48,777.30l9.8,9.8m-9.8,0l9.8,-9.8M731.78,782.20h15.2M739.38,774.60v15.2M738.22,777.30l9.8,9.8m-9.8,0l9.8,-9.8M735.52,782.20h15.2M743.12,774.60v15.2M741.97,777.30l9.8,9.8m-9.8,0l9.8,-9.8M739.27,782.20h15.2M746.87,774.60v15.2M745.73,777.30l9.8,9.8m-9.8,0l9.8,-9.8M743.03,782.20h15.2M750.63,774.60v15.2M749.50,777.30l9.8,9.8m-9.8,0l9.8,-9.8M746.80,782.20h15.2M754.40,774.60v15.2M753.27,777.30l9.8,9.8m-9.8,0l9.8,-9.8M750.57,782.20h15.2M758.17,774.60v15.2M757.07,777.30l9.8,9.8m-9.8,0l9.8,-9.8M754.37,782.20h15.2M761.97,774.60v15.2M760.87,777.30l9.8,9.8m-9.8,0l9.8,-9.8M758.17,782.20h15.2M765.77,774.60v15.2M764.68,777.30l9.8,9.8m-9.8,0l9.8,-9.8M761.98,782.20h15.2M769.58,774.60v15.2M768.50,777.30l9.8,9.8m-9.8,0l9.8,-9.8M765.80,782.20h15.2M773.40,774.60v15.2M772.33,777.30l9.8,9.8m-9.8,0l9.8,-9.8M769.63,782.20h15.2M777.23,774.60v15.2M776.17,777.30l9.8,9.8m-9.8,0l9.8,-9.8M773.47,782.20h15.2M781.07,774.60v15.2M780.03,777.30l9.8,9.8m-9.8,0l9.8,-9.8M777.33,782.20h15.2M784.93,774.60v15.2M783.89,777.30l9.8,9.8m-9.8,0l9.8,-9.8M781.19,782.20h15.2M788.79,774.60v15.2M787.76,777.30l9.8,9.8m-9.8,0l9.8,-9.8M785.06,782.20h15.2M792.66,774.60v15.2M791.65,777.30l9.8,9.8m-9.8,0l9.8,-9.8M788.95,782.20h15.2M796.55,774.60v15.2M795.55,777.30l9.8,9.8m-9.8,0l9.8,-9.8M792.85,782.20h15.2M800.45,774.60v15.2M799.45,777.30l9.8,9.8m-9.8,0l9.8,-9.8M796.75,782.20h15.2M804.35,774.60v15.2M803.37,777.30l9.8,9.8m-9.8,0l9.8,-9.8M800.67,782.20h15.2M808.27,774.60v15.2M807.30,777.30l9.8,9.8m-9.8,0l9.8,-9.8M804.60,782.20h15.2M812.20,774.60v15.2M811.24,777.30l9.8,9.8m-9.8,0l9.8,-9.8M808.54,782.20h15.2M816.14,774.60v15.2M815.19,777.30l9.8,9.8m-9.8,0l9.8,-9.8M812.49,782.20h15.2M820.09,774.60v15.2M819.15,777.30l9.8,9.8m-9.8,0l9.8,-9.8M816.45,782.20h15.2M824.05,774.60v15.2M823.12,777.30l9.8,9.8m-9.8,0l9.8,-9.8M820.42,782.20h15.2M828.02,774.60v15.2M827.10,777.30l9.8,9.8m-9.8,0l9.8,-9.8M824.40,782.20h15.2M832.00,774.60v15.2M831.09,777.30l9.8,9.8m-9.8,0l9.8,-9.8M828.39,782.20h15.2M835.99,774.60v15.2M835.10,777.30l9.8,9.8m-9.8,0l9.8,-9.8M832.40,782.20h15.2M840.00,774.60v15.2M839.11,777.30l9.8,9.8m-9.8,0l9.8,-9.8M836.41,782.20h15.2M844.01,774.60v15.2M843.14,777.30l9.8,9.8m-9.8,0l9.8,-9.8M840.44,782.20h15.2M848.04,774.60v15.2M847.18,777.30l9.8,9.8m-9.8,0l9.8,-9.8M844.48,782.20h15.2M852.08,774.60v15.2M851.23,777.30l9.8,9.8m-9.8,0l9.8,-9.8M848.53,782.20h15.2M856.13,774.60v15.2M855.29,777.30l9.8,9.8m-9.8,0l9.8,-9.8M852.59,782.20h15.2M860.19,774.60v15.2M859.36,777.30l9.8,9.8m-9.8,0l9.8,-9.8M856.66,782.20h15.2M864.26,774.60v15.2M863.44,777.30l9.8,9.8m-9.8,0l9.8,-9.8M860.74,782.20h15.2M868.34,774.60v15.2M867.53,777.30l9.8,9.8m-9.8,0l9.8,-9.8M864.83,782.20h15.2M872.43,774.60v15.2M871.64,777.30l9.8,9.8m-9.8,0l9.8,-9.8M868.94,782.20h15.2M876.54,774.60v15.2M875.75,777.30l9.8,9.8m-9.8,0l9.8,-9.8M873.05,782.20h15.2M880.65,774.60v15.2M879.88,777.30l9.8,9.8m-9.8,0l9.8,-9.8M877.18,782.20h15.2M884.78,774.60v15.2M884.02,777.30l9.8,9.8m-9.8,0l9.8,-9.8M881.32,782.20h15.2M888.92,774.60v15.2M888.17,777.30l9.8,9.8m-9.8,0l9.8,-9.8M885.47,782.20h15.2M893.07,774.60v15.2" fill="none" stroke="#D95319" stroke-width="1.5" stroke-linejoin="miter"/>
<path d="M175.10,782.20a7.5,7.5 0 1,0 15.0,0a7.5,7.5 0 1,0 -15.0,0zM177.31,782.20a7.5,7.5 0 1,0 15.0,0a7.5,7.5 0 1,0 -15.0,0zM179.52,782.20a7.5,7.5 0 1,0 15.0,0a7.5,7.5 0 1,0 -15.0,0zM181.74,782.20a7.5,7.5 0 1,0 15.0,0a7.5,7.5 0 1,0 -15.0,0zM183.96,782.20a7.5,7.5 0 1,0 15.0,0a7.5,7.5 0 1,0 -15.0,0zM186.19,782.20a7.5,7.5 0 1,0 15.0,0a7.5,7.5 0 1,0 -15.0,0zM188.43,782.20a7.5,7.5 0 1,0 15.0,0a7.5,7.5 0 1,0 -15.0,0zM190.67,782.19a7.5,7.5 0 1,0 15.0,0a7.5,7.5 0 1,0 -15.0,0zM192.92,782.19a7.5,7.5 0 1,0 15.0,0a7.5,7.5 0 1,0 -15.0,0zM195.17,782.19a7.5,7.5 0 1,0 15.0,0a7.5,7.5 0 1,0 -15.0,0zM197.43,782.19a7.5,7.5 0 1,0 15.0,0a7.5,7.5 0 1,0 -15.0,0zM199.70,782.18a7.5,7.5 0 1,0 15.0,0a7.5,7.5 0 1,0 -15.0,0zM201.97,782.18a7.5,7.5 0 1,0 15.0,0a7.5,7.5 0 1,0 -15.0,0zM204.25,782.17a7.5,7.5 0 1,0 15.0,0a7.5,7.5 0 1,0 -15.0,0zM206.54,782.16a7.5,7.5 0 1,0 15.0,0a7.5,7.5 0 1,0 -15.0,0zM208.83,782.15a7.5,7.5 0 1,0 15.0,0a7.5,7.5 0 1,0 -15.0,0zM211.12,782.14a7.5,7.5 0 1,0 15.0,0a7.5,7.5 0 1,0 -15.0,0zM213.43,782.12a7.5,7.5 0 1,0 15.0,0a7.5,7.5 0 1,0 -15.0,0zM215.74,782.09a7.5,7.5 0 1,0 15.0,0a7.5,7.5 0 1,0 -15.0,0zM218.06,782.06a7.5,7.5 0 1,0 15.0,0a7.5,7.5 0 1,0 -15.0,0zM220.38,782.02a7.5,7.5 0 1,0 15.0,0a7.5,7.5 0 1,0 -15.0,0zM222.71,781.97a7.5,7.5 0 1,0 15.0,0a7.5,7.5 0 1,0 -15.0,0zM225.05,781.91a7.5,7.5 0 1,0 15.0,0a7.5,7.5 0 1,0 -15.0,0zM227.39,781.83a7.5,7.5 0 1,0 15.0,0a7.5,7.5 0 1,0 -15.0,0zM229.74,781.73a7.5,7.5 0 1,0 15.0,0a7.5,7.5 0 1,0 -15.0,0zM232.09,781.61a7.5,7.5 0 1,0 15.0,0a7.5,7.5 0 1,0 -15.0,0zM234.46,781.45a7.5,7.5 0 1,0 15.0,0a7.5,7.5 0 1,0 -15.0,0zM236.82,781.26a7.5,7.5 0 1,0 15.0,0a7.5,7.5 0 1,0 -15.0,0zM239.20,781.02a7.5,7.5 0 1,0 15.0,0a7.5,7.5 0 1,0 -15.0,0zM241.58,780.73a7.5,7.5 0 1,0 15.0,0a7.5,7.5 0 1,0 -15.0,0zM243.97,780.36a7.5,7.5 0 1,0 15.0,0a7.5,7.5 0 1,0 -15.0,0zM246.36,779.92a7.5,7.5 0 1,0 15.0,0a7.5,7.5 0 1,0 -15.0,0zM248.77,779.38a7.5,7.5 0 1,0 15.0,0a7.5,7.5 0 1,0 -15.0,0zM251.17,778.73a7.5,7.5 0 1,0 15.0,0a7.5,7.5 0 1,0 -15.0,0zM253.59,777.94a7.5,7.5 0 1,0 15.0,0a7.5,7.5 0 1,0 -15.0,0zM256.01,777.00a7.5,7.5 0 1,0 15.0,0a7.5,7.5 0 1,0 -15.0,0zM258.44,775.86a7.5,7.5 0 1,0 15.0,0a7.5,7.5 0 1,0 -15.0,0zM260.87,774.51a7.5,7.5 0 1,0 15.0,0a7.5,7.5 0 1,0 -15.0,0zM263.31,772.90a7.5,7.5 0 1,0 15.0,0a7.5,7.5 0 1,0 -15.0,0zM265.76,771.01a7.5,7.5 0 1,0 15.0,0a7.5,7.5 0 1,0 -15.0,0zM268.22,768.77a7.5,7.5 0 1,0 15.0,0a7.5,7.5 0 1,0 -15.0,0zM270.68,766.16a7.5,7.5 0 1,0 15.0,0a7.5,7.5 0 1,0 -15.0,0zM273.15,763.11a7.5,7.5 0 1,0 15.0,0a7.5,7.5 0 1,0 -15.0,0zM275.62,759.57a7.5,7.5 0 1,0 15.0,0a7.5,7.5 0 1,0 -15.0,0zM278.10,755.48a7.5,7.5 0 1,0 15.0,0a7.5,7.5 0 1,0 -15.0,0zM280.59,750.78a7.5,7.5 0 1,0 15.0,0a7.5,7.5 0 1,0 -15.0,0zM283.09,745.41a7.5,7.5 0 1,0 15.0,0a7.5,7.5 0 1,0 -15.0,0zM285.59,739.29a7.5,7.5 0 1,0 15.0,0a7.5,7.5 0 1,0 -15.0,0zM288.10,732.37a7.5,7.5 0 1,0 15.0,0a7.5,7.5 0 1,0 -15.0,0zM290.62,724.57a7.5,7.5 0 1,0 15.0,0a7.5,7.5 0 1,0 -15.0,0zM293.14,715.84a7.5,7.5 0 1,0 15.0,0a7.5,7.5 0 1,0 -15.0,0zM295.67,706.10a7.5,7.5 0 1,0 15.0,0a7.5,7.5 0 1,0 -15.0,0zM298.21,695.32a7.5,7.5 0 1,0 15.0,0a7.5,7.5 0 1,0 -15.0,0zM300.75,683.44a7.5,7.5 0 1,0 15.0,0a7.5,7.5 0 1,0 -15.0,0zM303.30,670.42a7.5,7.5 0 1,0 15.0,0a7.5,7.5 0 1,0 -15.0,0zM305.86,656.25a7.5,7.5 0 1,0 15.0,0a7.5,7.5 0 1,0 -15.0,0zM308.43,640.91a7.5,7.5 0 1,0 15.0,0a7.5,7.5 0 1,0 -15.0,0zM311.00,624.42a7.5,7.5 0 1,0 15.0,0a7.5,7.5 0 1,0 -15.0,0zM313.58,606.81a7.5,7.5 0 1,0 15.0,0a7.5,7.5 0 1,0 -15.0,0zM316.16,588.12a7.5,7.5 0 1,0 15.0,0a7.5,7.5 0 1,0 -15.0,0zM318.76,568.43a7.5,7.5 0 1,0 15.0,0a7.5,7.5 0 1,0 -15.0,0zM321.36,547.83a7.5,7.5 0 1,0 15.0,0a7.5,7.5 0 1,0 -15.0,0zM323.97,526.50a7.5,7.5 0 1,0 15.0,0a7.5,7.5 0 1,0 -15.0,0zM326.58,506.02a7.5,7.5 0 1,0 15.0,0a7.5,7.5 0 1,0 -15.0,0zM329.20,486.56a7.5,7.5 0 1,0 15.0,0a7.5,7.5 0 1,0 -15.0,0zM331.83,467.37a7.5,7.5 0 1,0 15.0,0a7.5,7.5 0 1,0 -15.0,0zM334.47,447.84a7.5,7.5 0 1,0 15.0,0a7.5,7.5 0 1,0 -15.0,0zM337.11,427.56a7.5,7.5 0 1,0 15.0,0a7.5,7.5 0 1,0 -15.0,0zM339.76,406.36a7.5,7.5 0 1,0 15.0,0a7.5,7.5 0 1,0 -15.0,0zM342.42,384.32a7.5,7.5 0 1,0 15.0,0a7.5,7.5 0 1,0 -15.0,0zM345.09,362.05a7.5,7.5 0 1,0 15.0,0a7.5,7.5 0 1,0 -15.0,0zM347.76,340.96a7.5,7.5 0 1,0 15.0,0a7.5,7.5 0 1,0 -15.0,0zM350.44,321.50a7.5,7.5 0 1,0 15.0,0a7.5,7.5 0 1,0 -15.0,0zM353.13,304.00a7.5,7.5 0 1,0 15.0,0a7.5,7.5 0 1,0 -15.0,0zM355.83,288.76a7.5,7.5 0 1,0 15.0,0a7.5,7.5 0 1,0 -15.0,0zM358.53,276.07a7.5,7.5 0 1,0 15.0,0a7.5,7.5 0 1,0 -15.0,0zM361.24,266.16a7.5,7.5 0 1,0 15.0,0a7.5,7.5 0 1,0 -15.0,0zM363.96,259.25a7.5,7.5 0 1,0 15.0,0a7.5,7.5 0 1,0 -15.0,0zM366.68,255.47a7.5,7.5 0 1,0 15.0,0a7.5,7.5 0 1,0 -15.0,0zM369.42,254.93a7.5,7.5 0 1,0 15.0,0a7.5,7.5 0 1,0 -15.0,0zM372.16,257.67a7.5,7.5 0 1,0 15.0,0a7.5,7.5 0 1,0 -15.0,0zM374.90,263.65a7.5,7.5 0 1,0 15.0,0a7.5,7.5 0 1,0 -15.0,0zM377.66,272.79a7.5,7.5 0 1,0 15.0,0a7.5,7.5 0 1,0 -15.0,0zM380.42,284.96a7.5,7.5 0 1,0 15.0,0a7.5,7.5 0 1,0 -15.0,0zM383.19,299.94a7.5,7.5 0 1,0 15.0,0a7.5,7.5 0 1,0 -15.0,0zM385.97,317.50a7.5,7.5 0 1,0 15.0,0a7.5,7.5 0 1,0 -15.0,0zM388.76,337.33a7.5,7.5 0 1,0 15.0,0a7.5,7.5 0 1,0 -15.0,0zM391.55,359.12a7.5,7.5 0 1,0 15.0,0a7.5,7.5 0 1,0 -15.0,0zM394.35,382.42a7.5,7.5 0 1,0 15.0,0a7.5,7.5 0 1,0 -15.0,0zM397.16,405.74a7.5,7.5 0 1,0 15.0,0a7.5,7.5 0 1,0 -15.0,0zM399.98,428.27a7.5,7.5 0 1,0 15.0,0a7.5,7.5 0 1,0 -15.0,0zM402.80,449.87a7.5,7.5 0 1,0 15.0,0a7.5,7.5 0 1,0 -15.0,0zM405.63,470.77a7.5,7.5 0 1,0 15.0,0a7.5,7.5 0 1,0 -15.0,0zM408.47,491.51a7.5,7.5 0 1,0 15.0,0a7.5,7.5 0 1,0 -15.0,0zM411.32,512.92a7.5,7.5 0 1,0 15.0,0a7.5,7.5 0 1,0 -15.0,0zM414.18,535.90a7.5,7.5 0 1,0 15.0,0a7.5,7.5 0 1,0 -15.0,0zM417.04,559.00a7.5,7.5 0 1,0 15.0,0a7.5,7.5 0 1,0 -15.0,0zM419.91,581.20a7.5,7.5 0 1,0 15.0,0a7.5,7.5 0 1,0 -15.0,0zM422.79,602.33a7.5,7.5 0 1,0 15.0,0a7.5,7.5 0 1,0 -15.0,0zM425.68,622.27a7.5,7.5 0 1,0 15.0,0a7.5,7.5 0 1,0 -15.0,0zM428.57,640.90a7.5,7.5 0 1,0 15.0,0a7.5,7.5 0 1,0 -15.0,0zM431.48,658.18a7.5,7.5 0 1,0 15.0,0a7.5,7.5 0 1,0 -15.0,0zM434.39,674.05a7.5,7.5 0 1,0 15.0,0a7.5,7.5 0 1,0 -15.0,0zM437.31,688.51a7.5,7.5 0 1,0 15.0,0a7.5,7.5 0 1,0 -15.0,0zM440.23,701.57a7.5,7.5 0 1,0 15.0,0a7.5,7.5 0 1,0 -15.0,0zM443.17,713.27a7.5,7.5 0 1,0 15.0,0a7.5,7.5 0 1,0 -15.0,0zM446.11,723.68a7.5,7.5 0 1,0 15.0,0a7.5,7.5 0 1,0 -15.0,0zM449.06,732.85a7.5,7.5 0 1,0 15.0,0a7.5,7.5 0 1,0 -15.0,0zM452.02,740.86a7.5,7.5 0 1,0 15.0,0a7.5,7.5 0 1,0 -15.0,0zM454.99,747.82a7.5,7.5 0 1,0 15.0,0a7.5,7.5 0 1,0 -15.0,0zM457.97,753.80a7.5,7.5 0 1,0 15.0,0a7.5,7.5 0 1,0 -15.0,0zM460.95,758.90a7.5,7.5 0 1,0 15.0,0a7.5,7.5 0 1,0 -15.0,0zM463.94,763.22a7.5,7.5 0 1,0 15.0,0a7.5,7.5 0 1,0 -15.0,0zM466.94,766.86a7.5,7.5 0 1,0 15.0,0a7.5,7.5 0 1,0 -15.0,0zM469.95,769.88a7.5,7.5 0 1,0 15.0,0a7.5,7.5 0 1,0 -15.0,0zM472.97,772.38a7.5,7.5 0 1,0 15.0,0a7.5,7.5 0 1,0 -15.0,0zM476.00,774.43a7.5,7.5 0 1,0 15.0,0a7.5,7.5 0 1,0 -15.0,0zM479.03,776.10a7.5,7.5 0 1,0 15.0,0a7.5,7.5 0 1,0 -15.0,0zM482.07,777.44a7.5,7.5 0 1,0 15.0,0a7.5,7.5 0 1,0 -15.0,0zM485.12,778.52a7.5,7.5 0 1,0 15.0,0a7.5,7.5 0 1,0 -15.0,0zM488.18,779.37a7.5,7.5 0 1,0 15.0,0a7.5,7.5 0 1,0 -15.0,0zM491.25,780.04a7.5,7.5 0 1,0 15.0,0a7.5,7.5 0 1,0 -15.0,0zM494.32,780.57a7.5,7.5 0 1,0 15.0,0a7.5,7.5 0 1,0 -15.0,0zM497.41,780.98a7.5,7.5 0 1,0 15.0,0a7.5,7.5 0 1,0 -15.0,0zM500.50,781.29a7.5,7.5 0 1,0 15.0,0a7.5,7.5 0 1,0 -15.0,0zM503.60,781.53a7.5,7.5 0 1,0 15.0,0a7.5,7.5 0 1,0 -15.0,0zM506.71,781.71a7.5,7.5 0 1,0 15.0,0a7.5,7.5 0 1,0 -15.0,0zM509.83,781.84a7.5,7.5 0 1,0 15.0,0a7.5,7.5 0 1,0 -15.0,0zM512.96,781.94a7.5,7.5 0 1,0 15.0,0a7.5,7.5 0 1,0 -15.0,0zM516.09,782.01a7.5,7.5 0 1,0 15.0,0a7.5,7.5 0 1,0 -15.0,0zM519.24,782.07a7.5,7.5 0 1,0 15.0,0a7.5,7.5 0 1,0 -15.0,0zM522.39,782.11a7.5,7.5 0 1,0 15.0,0a7.5,7.5 0 1,0 -15.0,0zM525.55,782.14a7.5,7.5 0 1,0 15.0,0a7.5,7.5 0 1,0 -15.0,0zM528.72,782.16a7.5,7.5 0 1,0 15.0,0a7.5,7.5 0 1,0 -15.0,0zM531.90,782.17a7.5,7.5 0 1,0 15.0,0a7.5,7.5 0 1,0 -15.0,0zM535.09,782.18a7.5,7.5 0 1,0 15.0,0a7.5,7.5 0 1,0 -15.0,0zM538.28,782.19a7.5,7.5 0 1,0 15.0,0a7.5,7.5 0 1,0 -15.0,0zM541.49,782.19a7.5,7.5 0 1,0 15.0,0a7.5,7.5 0 1,0 -15.0,0zM544.70,782.19a7.5,7.5 0 1,0 15.0,0a7.5,7.5 0 1,0 -15.0,0zM547.93,782.20a7.5,7.5 0 1,0 15.0,0a7.5,7.5 0 1,0 -15.0,0zM551.16,782.20a7.5,7.5 0 1,0 15.0,0a7.5,7.5 0 1,0 -15.0,0zM554.40,782.20a7.5,7.5 0 1,0 15.0,0a7.5,7.5 0 1,0 -15.0,0zM557.65,782.20a7.5,7.5 0 1,0 15.0,0a7.5,7.5 0 1,0 -15.0,0zM560.91,782.20a7.5,7.5 0 1,0 15.0,0a7.5,7.5 0 1,0 -15.0,0zM564.17,782.20a7.5,7.5 0 1,0 15.0,0a7.5,7.5 0 1,0 -15.0,0zM567.45,782.20a7.5,7.5 0 1,0 15.0,0a7.5,7.5 0 1,0 -15.0,0zM570.74,782.20a7.5,7.5 0 1,0 15.0,0a7.5,7.5 0 1,0 -15.0,0zM574.03,782.20a7.5,7.5 0 1,0 15.0,0a7.5,7.5 0 1,0 -15.0,0zM577.33,782.20a7.5,7.5 0 1,0 15.0,0a7.5,7.5 0 1,0 -15.0,0zM580.65,782.20a7.5,7.5 0 1,0 15.0,0a7.5,7.5 0 1,0 -15.0,0zM583.97,782.20a7.5,7.5 0 1,0 15.0,0a7.5,7.5 0 1,0 -15.0,0zM587.30,782.20a7.5,7.5 0 1,0 15.0,0a7.5,7.5 0 1,0 -15.0,0zM590.64,782.20a7.5,7.5 0 1,0 15.0,0a7.5,7.5 0 1,0 -15.0,0zM593.99,782.20a7.5,7.5 0 1,0 15.0,0a7.5,7.5 0 1,0 -15.0,0zM597.35,782.20a7.5,7.5 0 1,0 15.0,0a7.5,7.5 0 1,0 -15.0,0zM600.72,782.20a7.5,7.5 0 1,0 15.0,0a7.5,7.5 0 1,0 -15.0,0zM604.09,782.20a7.5,7.5 0 1,0 15.0,0a7.5,7.5 0 1,0 -15.0,0zM607.48,782.20a7.5,7.5 0 1,0 15.0,0a7.5,7.5 0 1,0 -15.0,0zM610.88,782.20a7.5,7.5 0 1,0 15.0,0a7.5,7.5 0 1,0 -15.0,0zM614.28,782.20a7.5,7.5 0 1,0 15.0,0a7.5,7.5 0 1,0 -15.0,0zM617.70,782.20a7.5,7.5 0 1,0 15.0,0a7.5,7.5 0 1,0 -15.0,0zM621.12,782.20a7.5,7.5 0 1,0 15.0,0a7.5,7.5 0 1,0 -15.0,0zM624.55,782.20a7.5,7.5 0 1,0 15.0,0a7.5,7.5 0 1,0 -15.0,0zM628.00,782.20a7.5,7.5 0 1,0 15.0,0a7.5,7.5 0 1,0 -15.0,0zM631.45,782.20a7.5,7.5 0 1,0 15.0,0a7.5,7.5 0 1,0 -15.0,0zM634.91,782.20a7.5,7.5 0 1,0 15.0,0a7.5,7.5 0 1,0 -15.0,0zM638.38,782.20a7.5,7.5 0 1,0 15.0,0a7.5,7.5 0 1,0 -15.0,0zM641.86,782.20a7.5,7.5 0 1,0 15.0,0a7.5,7.5 0 1,0 -15.0,0zM645.35,782.20a7.5,7.5 0 1,0 15.0,0a7.5,7.5 0 1,0 -15.0,0zM648.85,782.20a7.5,7.5 0 1,0 15.0,0a7.5,7.5 0 1,0 -15.0,0zM652.36,782.20a7.5,7.5 0 1,0 15.0,0a7.5,7.5 0 1,0 -15.0,0zM655.88,782.20a7.5,7.5 0 1,0 15.0,0a7.5,7.5 0 1,0 -15.0,0zM659.41,782.20a7.5,7.5 0 1,0 15.0,0a7.5,7.5 0 1,0 -15.0,0zM662.95,782.20a7.5,7.5 0 1,0 15.0,0a7.5,7.5 0 1,0 -15.0,0zM666.50,782.20a7.5,7.5 0 1,0 15.0,0a7.5,7.5 0 1,0 -15.0,0zM670.06,782.20a7.5,7.5 0 1,0 15.0,0a7.5,7.5 0 1,0 -15.0,0zM673.63,782.20a7.5,7.5 0 1,0 15.0,0a7.5,7.5 0 1,0 -15.0,0zM677.20,782.20a7.5,7.5 0 1,0 15.0,0a7.5,7.5 0 1,0 -15.0,0zM680.79,782.20a7.5,7.5 0 1,0 15.0,0a7.5,7.5 0 1,0 -15.0,0zM684.39,782.20a7.5,7.5 0 1,0 15.0,0a7.5,7.5 0 1,0 -15.0,0zM688.00,782.20a7.5,7.5 0 1,0 15.0,0a7.5,7.5 0 1,0 -15.0,0zM691.61,782.20a7.5,7.5 0 1,0 15.0,0a7.5,7.5 0 1,0 -15.0,0zM695.24,782.20a7.5,7.5 0 1,0 15.0,0a7.5,7.5 0 1,0 -15.0,0zM698.88,782.20a7.5,7.5 0 1,0 15.0,0a7.5,7.5 0 1,0 -15.0,0zM702.53,782.20a7.5,7.5 0 1,0 15.0,0a7.5,7.5 0 1,0 -15.0,0zM706.18,782.20a7.5,7.5 0 1,0 15.0,0a7.5,7.5 0 1,0 -15.0,0zM709.85,782.20a7.5,7.5 0 1,0 15.0,0a7.5,7.5 0 1,0 -15.0,0zM713.53,782.20a7.5,7.5 0 1,0 15.0,0a7.5,7.5 0 1,0 -15.0,0zM717.22,782.20a7.5,7.5 0 1,0 15.0,0a7.5,7.5 0 1,0 -15.0,0zM720.92,782.20a7.5,7.5 0 1,0 15.0,0a7.5,7.5 0 1,0 -15.0,0zM724.62,782.20a7.5,7.5 0 1,0 15.0,0a7.5,7.5 0 1,0 -15.0,0zM728.34,782.20a7.5,7.5 0 1,0 15.0,0a7.5,7.5 0 1,0 -15.0,0zM732.07,782.20a7.5,7.5 0 1,0 15.0,0a7.5,7.5 0 1,0 -15.0,0zM735.81,782.20a7.5,7.5 0 1,0 15.0,0a7.5,7.5 0 1,0 -15.0,0zM739.56,782.20a7.5,7.5 0 1,0 15.0,0a7.5,7.5 0 1,0 -15.0,0zM743.32,782.20a7.5,7.5 0 1,0 15.0,0a7.5,7.5 0 1,0 -15.0,0zM747.09,782.20a7.5,7.5 0 1,0 15.0,0a7.5,7.5 0 1,0 -15.0,0zM750.87,782.20a7.5,7.5 0 1,0 15.0,0a7.5,7.5 0 1,0 -15.0,0zM754.66,782.20a7.5,7.5 0 1,0 15.0,0a7.5,7.5 0 1,0 -15.0,0zM758.46,782.20a7.5,7.5 0 1,0 15.0,0a7.5,7.5 0 1,0 -15.0,0zM762.27,782.20a7.5,7.5 0 1,0 15.0,0a7.5,7.5 0 1,0 -15.0,0zM766.09,782.20a7.5,7.5 0 1,0 15.0,0a7.5,7.5 0 1,0 -15.0,0zM769.93,782.20a7.5,7.5 0 1,0 15.0,0a7.5,7.5 0 1,0 -15.0,0zM773.77,782.20a7.5,7.5 0 1,0 15.0,0a7.5,7.5 0 1,0 -15.0,0zM777.62,782.20a7.5,7.5 0 1,0 15.0,0a7.5,7.5 0 1,0 -15.0,0zM781.49,782.20a7.5,7.5 0 1,0 15.0,0a7.5,7.5 0 1,0 -15.0,0zM785.36,782.20a7.5,7.5 0 1,0 15.0,0a7.5,7.5 0 1,0 -15.0,0zM789.25,782.20a7.5,7.5 0 1,0 15.0,0a7.5,7.5 0 1,0 -15.0,0zM793.15,782.20a7.5,7.5 0 1,0 15.0,0a7.5,7.5 0 1,0 -15.0,0zM797.05,782.20a7.5,7.5 0 1,0 15.0,0a7.5,7.5 0 1,0 -15.0,0zM800.97,782.20a7.5,7.5 0 1,0 15.0,0a7.5,7.5 0 1,0 -15.0,0zM804.90,782.20a7.5,7.5 0 1,0 15.0,0a7.5,7.5 0 1,0 -15.0,0zM808.84,782.20a7.5,7.5 0 1,0 15.0,0a7.5,7.5 0 1,0 -15.0,0zM812.79,782.20a7.5,7.5 0 1,0 15.0,0a7.5,7.5 0 1,0 -15.0,0zM816.75,782.20a7.5,7.5 0 1,0 15.0,0a7.5,7.5 0 1,0 -15.0,0zM820.72,782.20a7.5,7.5 0 1,0 15.0,0a7.5,7.5 0 1,0 -15.0,0zM824.70,782.20a7.5,7.5 0 1,0 15.0,0a7.5,7.5 0 1,0 -15.0,0zM828.70,782.20a7.5,7.5 0 1,0 15.0,0a7.5,7.5 0 1,0 -15.0,0zM832.70,782.20a7.5,7.5 0 1,0 15.0,0a7.5,7.5 0 1,0 -15.0,0zM836.72,782.20a7.5,7.5 0 1,0 15.0,0a7.5,7.5 0 1,0 -15.0,0zM840.75,782.20a7.5,7.5 0 1,0 15.0,0a7.5,7.5 0 1,0 -15.0,0zM844.79,782.20a7.5,7.5 0 1,0 15.0,0a7.5,7.5 0 1,0 -15.0,0zM848.83,782.20a7.5,7.5 0 1,0 15.0,0a7.5,7.5 0 1,0 -15.0,0zM852.89,782.20a7.5,7.5 0 1,0 15.0,0a7.5,7.5 0 1,0 -15.0,0zM856.97,782.20a7.5,7.5 0 1,0 15.0,0a7.5,7.5 0 1,0 -15.0,0zM861.05,782.20a7.5,7.5 0 1,0 15.0,0a7.5,7.5 0 1,0 -15.0,0zM865.14,782.20a7.5,7.5 0 1,0 15.0,0a7.5,7.5 0 1,0 -15.0,0zM869.25,782.20a7.5,7.5 0 1,0 15.0,0a7.5,7.5 0 1,0 -15.0,0zM873.37,782.20a7.5,7.5 0 1,0 15.0,0a7.5,7.5 0 1,0 -15.0,0z" fill="none" stroke="#EDB120" stroke-width="1.5" stroke-linejoin="miter"/>
<path d="M178.01,773.09l7.88,13.65h-15.76zM180.20,773.09l7.88,13.65h-15.76zM182.40,773.08l7.88,13.65h-15.76zM184.61,773.08l7.88,13.65h-15.76zM186.82,773.07l7.88,13.65h-15.76zM189.03,773.06l7.88,13.65h-15.76zM191.26,773.05l7.88,13.65h-15.76zM193.49,773.04l7.88,13.65h-15.76zM195.72,773.03l7.88,13.65h-15.76zM197.96,773.01l7.88,13.65h-15.76zM200.21,772.99l7.88,13.65h-15.76zM202.46,772.96l7.88,13.65h-15.76zM204.72,772.93l7.88,13.65h-15.76zM206.99,772.89l7.88,13.65h-15.76zM209.26,772.84l7.88,13.65h-15.76zM211.54,772.78l7.88,13.65h-15.76zM213.82,772.71l7.88,13.65h-15.76zM216.12,772.63l7.88,13.65h-15.76zM218.41,772.52l7.88,13.65h-15.76zM220.72,772.40l7.88,13.65h-15.76zM223.03,772.25l7.88,13.65h-15.76zM225.34,772.07l7.88,13.65h-15.76zM227.67,771.86l7.88,13.65h-15.76zM230.00,771.60l7.88,13.65h-15.76zM232.33,771.30l7.88,13.65h-15.76zM234.67,770.95l7.88,13.65h-15.76zM237.02,770.53l7.88,13.65h-15.76zM239.38,770.03l7.88,13.65h-15.76zM241.74,769.45l7.88,13.65h-15.76zM244.11,768.77l7.88,13.65h-15.76zM246.48,767.98l7.88,13.65h-15.76zM248.86,767.06l7.88,13.65h-15.76zM251.25,766.00l7.88,13.65h-15.76zM253.64,764.77l7.88,13.65h-15.76zM256.04,763.35l7.88,13.65h-15.76zM258.45,761.72l7.88,13.65h-15.76zM260.87,759.86l7.88,13.65h-15.76zM263.29,757.73l7.88,13.65h-15.76zM265.71,755.31l7.88,13.65h-15.76zM268.15,752.57l7.88,13.65h-15.76zM270.59,749.48l7.88,13.65h-15.76zM273.04,746.00l7.88,13.65h-15.76zM275.49,742.10l7.88,13.65h-15.76zM277.95,737.74l7.88,13.65h-15.76zM280.42,732.89l7.88,13.65h-15.76zM282.89,727.51l7.88,13.65h-15.76zM285.37,721.56l7.88,13.65h-15.76zM287.86,715.02l7.88,13.65h-15.76zM290.36,707.85l7.88,13.65h-15.76zM292.86,700.02l7.88,13.65h-15.76zM295.37,691.50l7.88,13.65h-15.76zM297.88,682.29l7.88,13.65h-15.76zM300.41,672.35l7.88,13.65h-15.76zM302.94,661.68l7.88,13.65h-15.76zM305.47,650.29l7.88,13.65h-15.76zM308.02,638.17l7.88,13.65h-15.76zM310.57,625.35l7.88,13.65h-15.76zM313.12,611.84l7.88,13.65h-15.76zM315.69,597.69l7.88,13.65h-15.76zM318.26,583.05l7.88,13.65h-15.76zM320.84,568.05l7.88,13.65h-15.76zM323.42,552.74l7.88,13.65h-15.76zM326.02,537.19l7.88,13.65h-15.76zM328.62,521.47l7.88,13.65h-15.76zM331.22,505.64l7.88,13.65h-15.76zM333.84,489.78l7.88,13.65h-15.76zM336.46,473.98l7.88,13.65h-15.76zM339.09,458.32l7.88,13.65h-15.76zM341.73,442.89l7.88,13.65h-15.76zM344.37,427.81l7.88,13.65h-15.76zM347.02,413.18l7.88,13.65h-15.76zM349.68,399.13l7.88,13.65h-15.76zM352.34,385.80l7.88,13.65h-15.76zM355.02,373.33l7.88,13.65h-15.76zM357.70,357.30l7.88,13.65h-15.76zM360.38,349.60l7.88,13.65h-15.76zM363.08,336.12l7.88,13.65h-15.76zM365.78,331.31l7.88,13.65h-15.76zM368.49,328.43l7.88,13.65h-15.76zM371.21,325.73l7.88,13.65h-15.76zM373.93,329.39l7.88,13.65h-15.76zM376.66,324.00l7.88,13.65h-15.76zM379.40,328.43l7.88,13.65h-15.76zM382.15,322.65l7.88,13.65h-15.76zM384.90,330.35l7.88,13.65h-15.76zM387.67,336.12l7.88,13.65h-15.76zM390.44,347.68l7.88,13.65h-15.76zM393.21,360.19l7.88,13.65h-15.76zM396.00,373.40l7.88,13.65h-15.76zM398.79,386.70l7.88,13.65h-15.76zM401.59,401.39l7.88,13.65h-15.76zM404.40,417.32l7.88,13.65h-15.76zM407.22,434.30l7.88,13.65h-15.76zM410.04,452.12l7.88,13.65h-15.76zM412.87,470.57l7.88,13.65h-15.76zM415.71,489.41l7.88,13.65h-15.76zM418.56,508.42l7.88,13.65h-15.76zM421.41,527.37l7.88,13.65h-15.76zM424.28,546.05l7.88,13.65h-15.76zM427.15,564.28l7.88,13.65h-15.76zM430.02,581.89l7.88,13.65h-15.76zM432.91,598.73l7.88,13.65h-15.76zM435.81,614.69l7.88,13.65h-15.76zM438.71,629.82l7.88,13.65h-15.76zM441.62,644.14l7.88,13.65h-15.76zM444.54,657.60l7.88,13.65h-15.76zM447.46,670.17l7.88,13.65h-15.76zM450.40,681.84l7.88,13.65h-15.76zM453.34,692.59l7.88,13.65h-15.76zM456.29,702.44l7.88,13.65h-15.76zM459.25,711.40l7.88,13.65h-15.76zM462.22,719.50l7.88,13.65h-15.76zM465.19,726.78l7.88,13.65h-15.76zM468.18,733.29l7.88,13.65h-15.76zM471.17,739.06l7.88,13.65h-15.76zM474.17,744.15l7.88,13.65h-15.76zM477.17,748.61l7.88,13.65h-15.76zM480.19,752.50l7.88,13.65h-15.76zM483.22,755.87l7.88,13.65h-15.76zM486.25,758.76l7.88,13.65h-15.76zM489.29,761.23l7.88,13.65h-15.76zM492.34,763.34l7.88,13.65h-15.76zM495.40,765.11l7.88,13.65h-15.76zM498.46,766.60l7.88,13.65h-15.76zM501.54,767.84l7.88,13.65h-15.76zM504.62,768.87l7.88,13.65h-15.76zM507.71,769.72l7.88,13.65h-15.76zM510.82,770.41l7.88,13.65h-15.76zM513.92,770.98l7.88,13.65h-15.76zM517.04,771.43l7.88,13.65h-15.76zM520.17,771.80l7.88,13.65h-15.76zM523.30,772.09l7.88,13.65h-15.76zM526.45,772.32l7.88,13.65h-15.76zM529.60,772.50l7.88,13.65h-15.76zM532.76,772.65l7.88,13.65h-15.76zM535.93,772.76l7.88,13.65h-15.76zM539.11,772.84l7.88,13.65h-15.76zM542.29,772.91l7.88,13.65h-15.76zM545.49,772.96l7.88,13.65h-15.76zM548.69,772.99l7.88,13.65h-15.76zM551.91,773.02l7.88,13.65h-15.76zM555.13,773.04l7.88,13.65h-15.76zM558.36,773.06l7.88,13.65h-15.76zM561.60,773.07l7.88,13.65h-15.76zM564.85,773.08l7.88,13.65h-15.76zM568.11,773.09l7.88,13.65h-15.76zM571.37,773.09l7.88,13.65h-15.76zM574.65,773.09l7.88,13.65h-15.76zM577.93,773.09l7.88,13.65h-15.76zM581.23,773.10l7.88,13.65h-15.76zM584.53,773.10l7.88,13.65h-15.76zM587.84,773.10l7.88,13.65h-15.76zM591.16,773.10l7.88,13.65h-15.76zM594.49,773.10l7.88,13.65h-15.76zM597.83,773.10l7.88,13.65h-15.76zM601.18,773.10l7.88,13.65h-15.76zM604.54,773.10l7.88,13.65h-15.76zM607.91,773.10l7.88,13.65h-15.76zM611.28,773.10l7.88,13.65h-15.76zM614.67,773.10l7.88,13.65h-15.76zM618.06,773.10l7.88,13.65h-15.76zM621.47,773.10l7.88,13.65h-15.76zM624.88,773.10l7.88,13.65h-15.76zM628.30,773.10l7.88,13.65h-15.76zM631.74,773.10l7.88,13.65h-15.76zM635.18,773.10l7.88,13.65h-15.76zM638.63,773.10l7.88,13.65h-15.76zM642.09,773.10l7.88,13.65h-15.76zM645.56,773.10l7.88,13.65h-15.76zM649.04,773.10l7.88,13.65h-15.76zM652.53,773.10l7.88,13.65h-15.76zM656.03,773.10l7.88,13.65h-15.76zM659.54,773.10l7.88,13.65h-15.76zM663.06,773.10l7.88,13.65h-15.76zM666.59,773.10l7.88,13.65h-15.76zM670.12,773.10l7.88,13.65h-15.76zM673.67,773.10l7.88,13.65h-15.76zM677.23,773.10l7.88,13.65h-15.76zM680.80,773.10l7.88,13.65h-15.76zM684.37,773.10l7.88,13.65h-15.76zM687.96,773.10l7.88,13.65h-15.76zM691.56,773.10l7.88,13.65h-15.76zM695.16,773.10l7.88,13.65h-15.76zM698.78,773.10l7.88,13.65h-15.76zM702.41,773.10l7.88,13.65h-15.76zM706.04,773.10l7.88,13.65h-15.76zM709.69,773.10l7.88,13.65h-15.76zM713.35,773.10l7.88,13.65h-15.76zM717.01,773.10l7.88,13.65h-15.76zM720.69,773.10l7.88,13.65h-15.76zM724.38,773.10l7.88,13.65h-15.76zM728.07,773.10l7.88,13.65h-15.76zM731.78,773.10l7.88,13.65h-15.76zM735.50,773.10l7.88,13.65h-15.76zM739.23,773.10l7.88,13.65h-15.76zM742.96,773.10l7.88,13.65h-15.76zM746.71,773.10l7.88,13.65h-15.76zM750.47,773.10l7.88,13.65h-15.76zM754.24,773.10l7.88,13.65h-15.76zM758.02,773.10l7.88,13.65h-15.76zM761.81,773.10l7.88,13.65h-15.76zM765.61,773.10l7.88,13.65h-15.76zM769.42,773.10l7.88,13.65h-15.76zM773.24,773.10l7.88,13.65h-15.76zM777.07,773.10l7.88,13.65h-15.76zM780.91,773.10l7.88,13.65h-15.76zM784.77,773.10l7.88,13.65h-15.76zM788.63,773.10l7.88,13.65h-15.76zM792.51,773.10l7.88,13.65h-15.76zM796.39,773.10l7.88,13.65h-15.76zM800.29,773.10l7.88,13.65h-15.76zM804.19,773.10l7.88,13.65h-15.76zM808.11,773.10l7.88,13.65h-15.76zM812.04,773.10l7.88,13.65h-15.76zM815.97,773.10l7.88,13.65h-15.76zM819.92,773.10l7.88,13.65h-15.76zM823.88,773.10l7.88,13.65h-15.76zM827.85,773.10l7.88,13.65h-15.76zM831.84,773.10l7.88,13.65h-15.76zM835.83,773.10l7.88,13.65h-15.76zM839.83,773.10l7.88,13.65h-15.76zM843.85,773.10l7.88,13.65h-15.76zM847.88,773.10l7.88,13.65h-15.76zM851.91,773.10l7.88,13.65h-15.76zM855.96,773.10l7.88,13.65h-15.76zM860.02,773.10l7.88,13.65h-15.76zM864.09,773.10l7.88,13.65h-15.76zM868.17,773.10l7.88,13.65h-15.76zM872.27,773.10l7.88,13.65h-15.76z" fill="none" stroke="#7E2F8E" stroke-width="1.5" stroke-linejoin="miter"/>
<rect x="117.8" y="35.9" width="159" height="58" fill="#fff" stroke="#0d0d0d" stroke-width="1.1"/>
<text class="k" x="128.9" y="76.1" font-size="34">L=1000</text>
<rect x="779.5" y="29.5" width="156.2" height="177.7" fill="#fff" stroke="#262626" stroke-width="1.1"/>
<path d="M812.20,48.90l9.8,9.8m-9.8,0l9.8,-9.8" fill="none" stroke="#0072BD" stroke-width="1.5"/>
<text class="k" x="853.6" y="66.9" font-size="34">400</text>
<path d="M812.20,92.10l9.8,9.8m-9.8,0l9.8,-9.8M809.50,97.00h15.2M817.10,89.40v15.2" fill="none" stroke="#D95319" stroke-width="1.5"/>
<text class="k" x="853.6" y="110.0" font-size="34">500</text>
<path d="M809.60,140.10a7.5,7.5 0 1,0 15.0,0a7.5,7.5 0 1,0 -15.0,0z" fill="none" stroke="#EDB120" stroke-width="1.5"/>
<text class="k" x="853.6" y="153.2" font-size="34">750</text>
<path d="M817.10,174.50l7.88,13.65h-15.76z" fill="none" stroke="#7E2F8E" stroke-width="1.5"/>
<text class="k" x="853.6" y="196.9" font-size="34">1000</text>
<g transform="translate(36.8,439.7) rotate(-90)"><text class="m" x="1" y="0" font-size="45" font-style="italic">P</text><text class="m" x="32.6" y="0" font-size="46">(</text><text class="m" x="49.8" y="0" font-size="41" font-style="italic">ρ</text><text class="m" x="69.6" y="0" font-size="46">)</text></g>
<text class="m" x="525.6" y="848" font-size="33" font-style="italic" text-anchor="middle">ρ</text>
<rect x="491.8" y="856.6" width="65.1" height="1.7" fill="#111"/>
<text class="m" x="492.5" y="888" font-size="35" font-style="italic">θ</text>
<text class="m" x="511" y="878" font-size="25.5">0.02</text>
</svg></body></html>
